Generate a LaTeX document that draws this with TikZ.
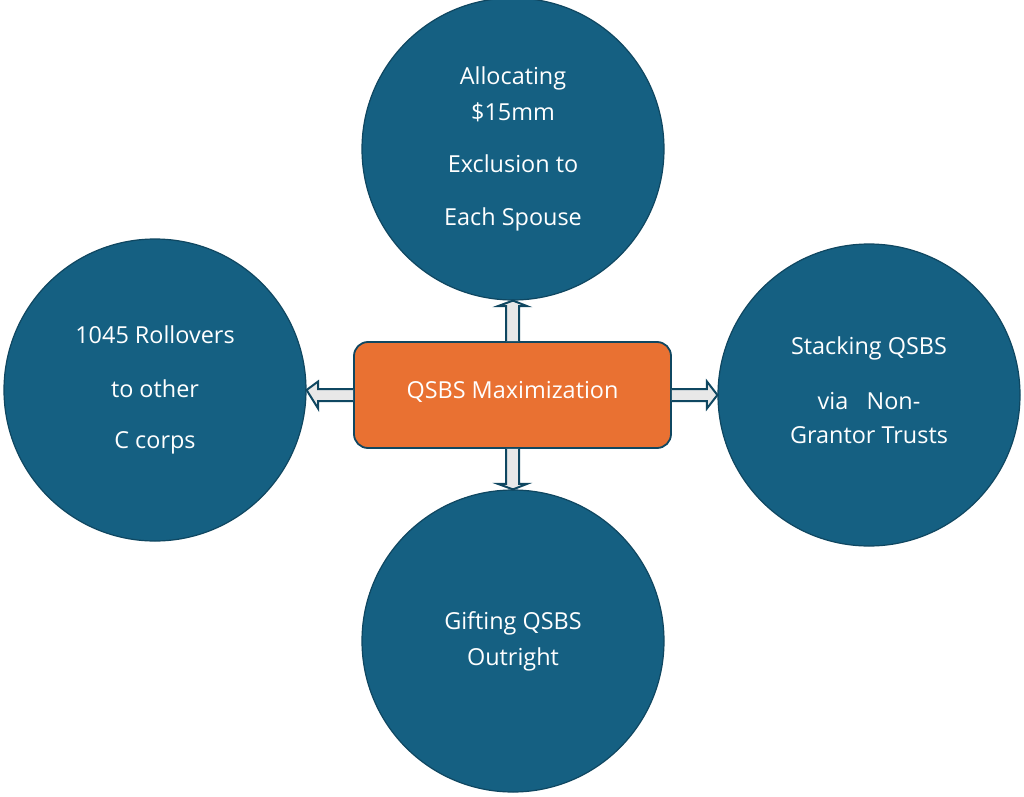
\documentclass[tikz,border=0pt]{standalone}
\usepackage{fontspec}
\setmainfont{Open Sans}
\usetikzlibrary{calc}
\definecolor{circfill}{HTML}{156082}
\definecolor{circline}{HTML}{0F4761}
\definecolor{boxfill}{HTML}{E97132}
\definecolor{arrfill}{HTML}{E8E8E8}
\begin{document}
\begin{tikzpicture}[x=1bp,y=-1bp,
  bubble/.style={circle,fill=circfill,draw=circline,line width=1.2bp,minimum size=302bp,inner sep=0pt,
     text=white,align=center,font=\fontsize{23.5}{36}\selectfont},
  centerbox/.style={rounded corners=14bp,fill=boxfill,draw=circline,line width=1.8bp,
     minimum width=317bp,minimum height=106bp,text=white,font=\fontsize{23.5}{28}\selectfont},
  blockarrow/.style={fill=arrfill,draw=circline,line width=2bp,line join=miter}]
\useasboundingbox (0,0) rectangle (1024,797);
\node[centerbox,text depth=10bp] (c) at (512.5,395) {QSBS Maximization};
\node[bubble] (t) at (513,149) {Allocating\\\$15mm\\[16bp]Exclusion to\\[18bp]Each Spouse};
\node[bubble] (l) at (155,390) {1045 Rollovers\\[18bp]to other\\[16bp]C corps};
\node[bubble,text depth=10bp] (r) at (869,395) {Stacking QSBS\\[20bp]via\ \ \ Non-\\[-2bp]Grantor Trusts};
\node[bubble] (b) at (513,641) {Gifting QSBS\\Outright};
% up arrow
\draw[blockarrow] ($(c.north)+(-6.5,0)$) -- ($(c.north)+(-6.5,-35)$) -- ($(c.north)+(-14.5,-35)$)
  -- (t.south) -- ($(c.north)+(14.5,-35)$) -- ($(c.north)+(6.5,-35)$) -- ($(c.north)+(6.5,0)$);
% down arrow
\draw[blockarrow] ($(c.south)+(-6.5,0)$) -- ($(c.south)+(-6.5,35)$) -- ($(c.south)+(-14.5,35)$)
  -- (b.north) -- ($(c.south)+(14.5,35)$) -- ($(c.south)+(6.5,35)$) -- ($(c.south)+(6.5,0)$);
% right arrow
\draw[blockarrow] ($(c.east)+(0,-6)$) -- ($(c.east)+(35,-6)$) -- ($(c.east)+(35,-13.5)$)
  -- (r.west) -- ($(c.east)+(35,13.5)$) -- ($(c.east)+(35,6)$) -- ($(c.east)+(0,6)$);
% left arrow
\draw[blockarrow] ($(c.west)+(0,-6)$) -- ($(c.west)+(-35,-6)$) -- ($(c.west)+(-35,-13.5)$)
  -- (l.east) -- ($(c.west)+(-35,13.5)$) -- ($(c.west)+(-35,6)$) -- ($(c.west)+(0,6)$);
\end{tikzpicture}
\end{document}
